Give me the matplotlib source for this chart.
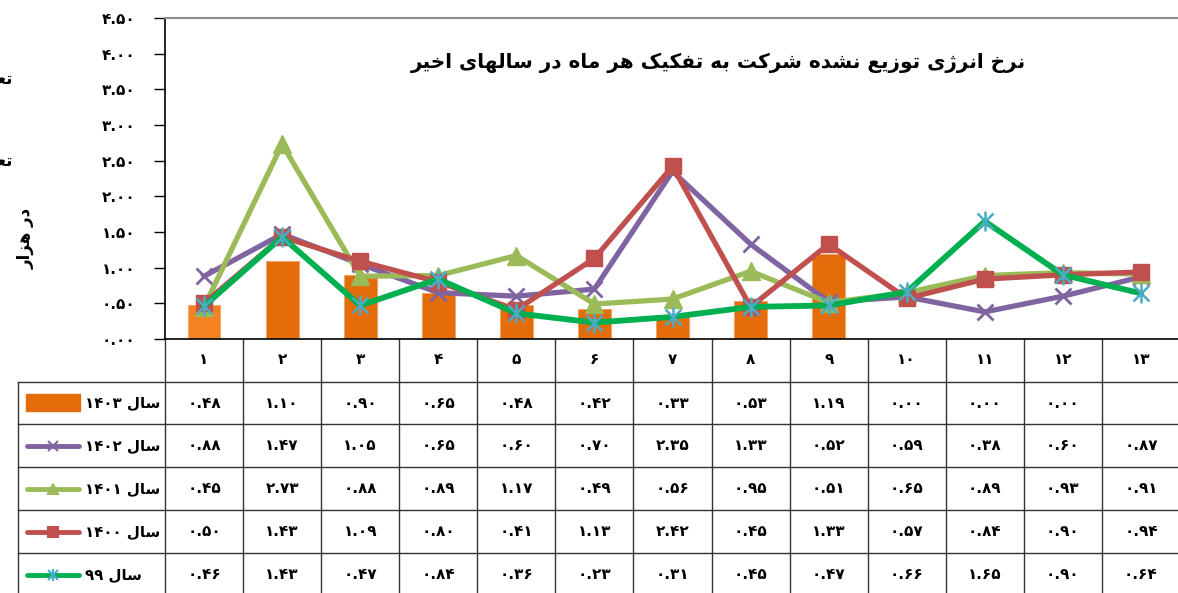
import matplotlib
matplotlib.use("Agg")
import matplotlib.pyplot as plt
import matplotlib.transforms as mtransforms
import numpy as np

# ---- data ----
months = list(range(1, 14))
y1403 = [0.48, 1.10, 0.90, 0.65, 0.48, 0.42, 0.33, 0.53, 1.19, 0.00, 0.00, 0.00, None]
y1402 = [0.88, 1.47, 1.05, 0.65, 0.60, 0.70, 2.35, 1.33, 0.52, 0.59, 0.38, 0.60, 0.87]
y1401 = [0.45, 2.73, 0.88, 0.89, 1.17, 0.49, 0.56, 0.95, 0.51, 0.65, 0.89, 0.93, 0.91]
y1400 = [0.50, 1.43, 1.09, 0.80, 0.41, 1.13, 2.42, 0.45, 1.33, 0.57, 0.84, 0.90, 0.94]
y99 = [0.46, 1.43, 0.47, 0.84, 0.36, 0.23, 0.31, 0.45, 0.47, 0.66, 1.65, 0.90, 0.64]
yticks = [0.0, 0.5, 1.0, 1.5, 2.0, 2.5, 3.0, 3.5, 4.0, 4.5]
title = "نرخ انرژی توزیع نشده شرکت به تفکیک هر ماه در سالهای اخیر"
ylab = "در هزار"

# ---- minimal arabic/persian shaping (matplotlib has no bidi) ----
FORMS = {
    '\u0627': ('\uFE8D', '\uFE8E', None, None),
    '\u0628': ('\uFE8F', '\uFE90', '\uFE91', '\uFE92'),
    '\u062A': ('\uFE95', '\uFE96', '\uFE97', '\uFE98'),
    '\u062E': ('\uFEA5', '\uFEA6', '\uFEA7', '\uFEA8'),
    '\u062F': ('\uFEA9', '\uFEAA', None, None),
    '\u0631': ('\uFEAD', '\uFEAE', None, None),
    '\u0632': ('\uFEAF', '\uFEB0', None, None),
    '\u0633': ('\uFEB1', '\uFEB2', '\uFEB3', '\uFEB4'),
    '\u0634': ('\uFEB5', '\uFEB6', '\uFEB7', '\uFEB8'),
    '\u0639': ('\uFEC9', '\uFECA', '\uFECB', '\uFECC'),
    '\u0641': ('\uFED1', '\uFED2', '\uFED3', '\uFED4'),
    '\u0644': ('\uFEDD', '\uFEDE', '\uFEDF', '\uFEE0'),
    '\u0645': ('\uFEE1', '\uFEE2', '\uFEE3', '\uFEE4'),
    '\u0646': ('\uFEE5', '\uFEE6', '\uFEE7', '\uFEE8'),
    '\u0647': ('\uFEE9', '\uFEEA', '\uFEEB', '\uFEEC'),
    '\u0648': ('\uFEED', '\uFEEE', None, None),
    '\u0698': ('\uFB8A', '\uFB8B', None, None),
    '\u06A9': ('\uFB8E', '\uFB8F', '\uFB90', '\uFB91'),
    '\u06CC': ('\uFBFC', '\uFBFD', '\uFBFE', '\uFBFF'),
}


def shape(text):
    out = []
    for i, c in enumerate(text):
        if c not in FORMS:
            out.append(c)
            continue
        prev = text[i - 1] if i > 0 else None
        nxt = text[i + 1] if i + 1 < len(text) else None
        jp = prev in FORMS and FORMS[prev][2] is not None
        jn = nxt in FORMS and FORMS[c][2] is not None
        iso, fin, ini, med = FORMS[c]
        if jp and jn:
            out.append(med)
        elif jp:
            out.append(fin)
        elif jn:
            out.append(ini)
        else:
            out.append(iso)
    return ''.join(reversed(out))


FA = str.maketrans("0123456789", "۰۱۲۳۴۵۶۷۸۹")


def fa(s):
    return str(s).translate(FA)


plt.rcParams['font.family'] = ['DejaVu Sans']
plt.rcParams['font.weight'] = 'bold'

W, H = 1178, 593
fig = plt.figure(figsize=(W / 100, H / 100), dpi=100)
ax = fig.add_axes([165 / W, 1 - 339 / H, 1015 / W, 321 / H])
over = fig.add_axes([0, 0, 1, 1], zorder=-1)
over.set_xlim(0, W)
over.set_ylim(H, 0)
over.axis('off')

x = np.array(months)
bar_vals = [np.nan if v is None else v for v in y1403]
bars = ax.bar(x, bar_vals, width=0.42, color='#E46C0A', edgecolor='#F0A060', linewidth=0.6, zorder=2)
bars[0].set_facecolor('#F58220')

ax.plot(x, y1402, color='#8064A2', lw=3.8, marker='x', ms=12, mew=2, zorder=3)
ax.plot(x, y1401, color='#9BBB59', lw=3.8, marker='^', ms=13, zorder=4)
ax.plot(x, y1400, color='#C0504D', lw=3.8, marker='s', ms=12, zorder=5)
ax.plot(x, y99, color='#00B050', lw=4.2, zorder=6)
ax.plot(x, y99, ls='none', marker='x', ms=11, mew=1.8, color='#4BACC6', zorder=7)
ax.plot(x, y99, ls='none', marker='|', ms=14, mew=1.8, color='#4BACC6', zorder=7)

ax.set_xlim(0.5, 13.5)
ax.set_ylim(0, 4.5)
ax.set_yticks(yticks)
ax.set_yticklabels([fa(f"{t:.2f}") for t in yticks], fontsize=11, fontweight='bold')
ax.tick_params(axis='y', direction='out', length=8, width=1, pad=13)
ax.set_xticks([])
ax.spines['right'].set_visible(False)
ax.spines['top'].set_color('#8C8C8C')
ax.spines['top'].set_linewidth(1.5)
ax.spines['left'].set_linewidth(1.2)
ax.spines['bottom'].set_linewidth(1.2)
ax.patch.set_alpha(0)

fig.text(718 / W, 1 - 63 / H, shape(title), ha='center', va='center', fontsize=14.4, fontweight='bold')
fig.text(26 / W, 1 - 238 / H, shape(ylab), ha='center', va='center', rotation=90, fontsize=12, fontweight='bold')
# partly hidden labels at the left edge, as in the source
fig.text(12 / W, 1 - 78 / H, shape("تعداد"), ha='right', va='center', fontsize=12, fontweight='bold')
fig.text(12 / W, 1 - 160 / H, shape("تعداد"), ha='right', va='center', fontsize=12, fontweight='bold')

# ---- data table ----
tr = mtransforms.blended_transform_factory(ax.transData, over.transData)
row_edges = [382, 424, 467, 510, 553, 596]
lc = '#333333'
for b in np.arange(0.5, 14, 1.0):
    over.plot([b, b], [339, H], color=lc, lw=1, transform=tr, clip_on=False)
for yy in row_edges:
    over.plot([18, W], [yy, yy], color=lc, lw=1)
over.plot([18, 18], [382, H], color=lc, lw=1)

for m in months:
    over.text(m, 360, fa(m), transform=tr, ha='center', va='center', fontsize=11, fontweight='bold')

rows = [y1403, y1402, y1401, y1400, y99]
names = ["۱۴۰۳", "۱۴۰۲", "۱۴۰۱", "۱۴۰۰", "۹۹"]
for r, vals in enumerate(rows):
    yc = (row_edges[r] + row_edges[r + 1]) / 2
    for m, v in zip(months, vals):
        if v is None:
            continue
        over.text(m, yc, fa(f"{v:.2f}"), transform=tr, ha='center', va='center', fontsize=11, fontweight='bold')
    over.text(85, yc, names[r] + " " + shape("سال"), ha='left', va='center', fontsize=10.8)

# legend keys
over.add_patch(plt.Rectangle((26, 394), 54, 17, color='#E46C0A'))
keys = [('#8064A2', 'x', '#8064A2'), ('#9BBB59', '^', '#9BBB59'), ('#C0504D', 's', '#C0504D'), ('#00B050', '*', '#4BACC6')]
for k, (c, mk, mc) in enumerate(keys):
    yc = (row_edges[k + 1] + row_edges[k + 2]) / 2
    over.plot([27, 79], [yc, yc], color=c, lw=3.5, solid_capstyle='round')
    if mk == '*':
        over.plot([53], [yc], marker='x', ms=7, mew=1.5, color=mc)
        over.plot([53], [yc], marker='|', ms=9, mew=1.5, color=mc)
    else:
        over.plot([53], [yc], marker=mk, ms=7, mew=1.5, color=mc)

fig.savefig("out.png", dpi=100)
